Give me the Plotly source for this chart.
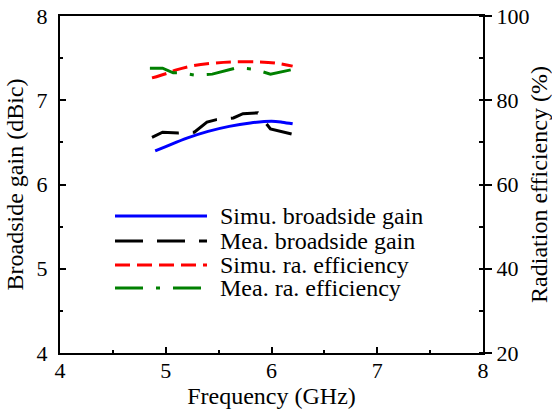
import plotly.graph_objects as go

# ---- data ----
freq_simu_gain = [4.90, 5.00, 5.20, 5.40, 5.60, 5.80, 6.00, 6.10, 6.20]
simu_gain = [6.40, 6.45, 6.55, 6.63, 6.69, 6.73, 6.75, 6.74, 6.72]

freq_mea_gain = [4.87, 4.97, 5.12, 5.27, 5.39, 5.48, 5.64, 5.73, 5.87, 5.99, 6.19]
mea_gain = [6.56, 6.62, 6.61, 6.62, 6.74, 6.77, 6.79, 6.84, 6.85, 6.66, 6.60]

freq_simu_eff = [4.87, 5.00, 5.10, 5.26, 5.45, 5.64, 5.89, 6.05, 6.20]
simu_eff = [85.3, 86.3, 87.2, 88.2, 88.8, 89.1, 89.1, 88.8, 88.1]

freq_mea_eff = [4.85, 4.97, 5.07, 5.13, 5.27, 5.44, 5.67, 5.83, 5.99, 6.20]
mea_eff = [87.6, 87.6, 86.5, 86.5, 86.0, 86.2, 87.7, 87.4, 86.2, 87.3]

x_ticks = [4, 5, 6, 7, 8]
gain_ticks = [4, 5, 6, 7, 8]
eff_ticks = [20, 40, 60, 80, 100]

legend_names = ["Simu. broadside gain", "Mea. broadside gain",
                "Simu. ra. efficiency", "Mea. ra. efficiency"]

FONT = "Liberation Serif"
styles = [
    dict(color="#0000ff", width=3, dash="solid"),
    dict(color="#000000", width=3, dash="28px,14px"),
    dict(color="#ff0000", width=3, dash="15px,7px"),
    dict(color="#008000", width=3, dash="28px,13px,4px,13px"),
]

fig = go.Figure()
fig.add_trace(go.Scatter(x=freq_simu_gain, y=simu_gain, mode="lines",
                         line=dict(**styles[0], shape="spline"),
                         name=legend_names[0], yaxis="y"))
fig.add_trace(go.Scatter(x=freq_mea_gain, y=mea_gain, mode="lines",
                         line=styles[1], name=legend_names[1], yaxis="y"))
fig.add_trace(go.Scatter(x=freq_simu_eff, y=simu_eff, mode="lines",
                         line=dict(**styles[2], shape="spline"),
                         name=legend_names[2], yaxis="y2"))
fig.add_trace(go.Scatter(x=freq_mea_eff, y=mea_eff, mode="lines",
                         line=styles[3], name=legend_names[3], yaxis="y2"))

# manual legend (long line samples as in the reference)
W, H = 552, 413
ml, mr, mt, mb = 60, 69, 16, 60
pw, ph = W - ml - mr, H - mt - mb
def px(x):
    return (x - ml) / pw
def py(y):
    return (H - mb - y) / ph
rows = [216, 241, 265, 288]
for name, st, ry in zip(legend_names, styles, rows):
    fig.add_shape(type="line", xref="paper", yref="paper",
                  x0=px(115), x1=px(207), y0=py(ry), y1=py(ry),
                  line=dict(color=st["color"], width=3, dash=st["dash"]))
    fig.add_annotation(xref="paper", yref="paper", x=px(218), y=py(ry),
                       text=name, showarrow=False, xanchor="left", yanchor="middle",
                       font=dict(family=FONT, size=24, color="black"))

axis_common = dict(showgrid=False, zeroline=False, linecolor="black", linewidth=2,
                   tickcolor="black", tickwidth=2, automargin=False,
                   tickfont=dict(family=FONT, size=22, color="black"))

fig.update_layout(
    width=W, height=H,
    margin=dict(l=ml, r=mr, t=mt, b=mb),
    paper_bgcolor="white", plot_bgcolor="white",
    showlegend=False,
    font=dict(family=FONT, color="black"),
    xaxis=dict(range=[4, 8], tickvals=x_ticks, ticks="inside", ticklen=6,
               showline=True, mirror=True, ticklabelstandoff=-3,
               minor=dict(dtick=0.5, ticks="inside", ticklen=3, tickcolor="black", tickwidth=1.5),
               title=dict(text="Frequency (GHz)", font=dict(family=FONT, size=24, color="black"), standoff=0),
               **axis_common),
    yaxis=dict(range=[4, 8], tickvals=gain_ticks, ticks="inside", ticklen=6,
               showline=True, ticklabelstandoff=6,
               minor=dict(dtick=0.5, ticks="inside", ticklen=3, tickcolor="black", tickwidth=1.5),
               title=dict(text="Broadside gain (dBic)", font=dict(family=FONT, size=24, color="black"), standoff=6),
               **axis_common),
    yaxis2=dict(range=[20, 100], tickvals=eff_ticks, ticks="outside", ticklen=7,
                overlaying="y", side="right", showline=True,
                minor=dict(dtick=10, ticks="inside", ticklen=4, tickcolor="black", tickwidth=1.5),
                title=dict(text="Radiation efficiency (%)", font=dict(family=FONT, size=24, color="black"), standoff=2),
                **axis_common),
)

fig.write_html("out.html")
